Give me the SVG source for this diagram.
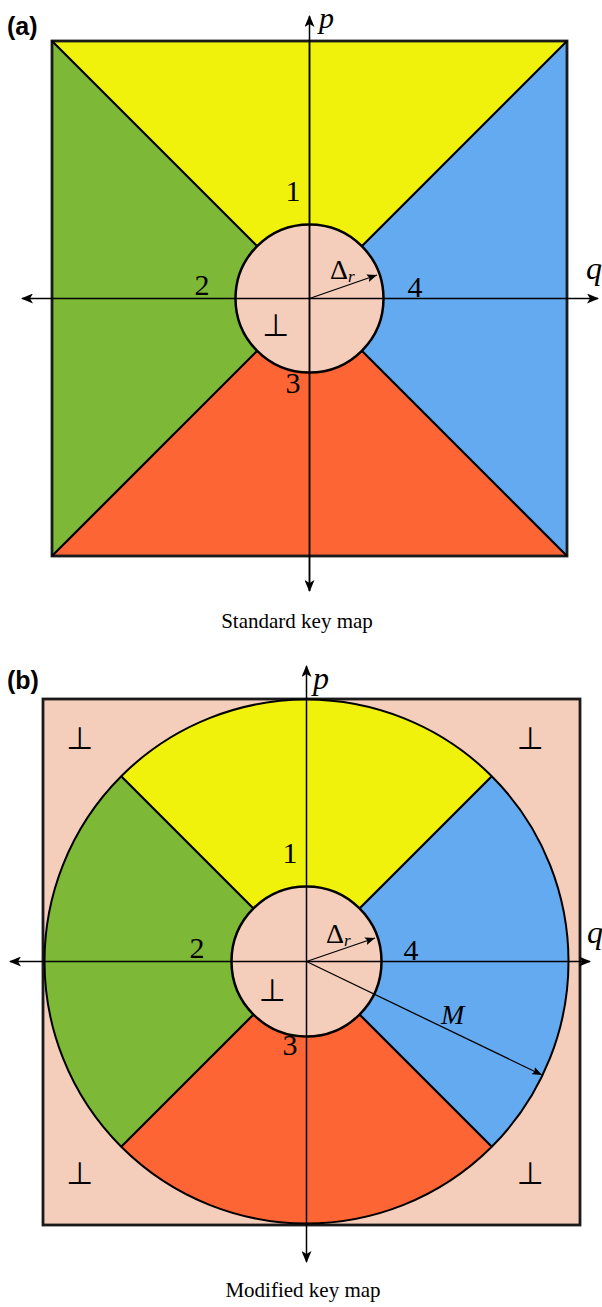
<svg xmlns="http://www.w3.org/2000/svg" width="602" height="1307" viewBox="0 0 602 1307">
<style>
.lbl{font-family:"Liberation Sans",Arial,sans-serif;font-weight:bold;font-size:25px;fill:#000}
.num{font-family:"Liberation Serif","Times New Roman",serif;font-size:30px;fill:#000;text-anchor:middle}
.it{font-family:"Liberation Serif","Times New Roman",serif;font-style:italic;fill:#000}
.cap{font-family:"Liberation Serif","Times New Roman",serif;font-size:21px;fill:#000;text-anchor:middle}
.perp{font-family:"DejaVu Sans",sans-serif;font-size:31px;fill:#000;text-anchor:middle}
.axis{stroke:#000;stroke-width:1.5;fill:none}
.thin{stroke:#000;stroke-width:1.3;fill:none}
.edge{stroke:#000;stroke-width:2.2;fill:none}
.frame{stroke:#1a1a1a;stroke-width:2.8}
.y{fill:#F0F20C}.g{fill:#7DB836}.b{fill:#63AAF0}.r{fill:#FE6535}.pk{fill:#F5CDBB}
</style>
<defs>
<marker id="ah" viewBox="0 0 12 10" refX="11" refY="5" markerWidth="12" markerHeight="10" markerUnits="userSpaceOnUse" orient="auto">
<path d="M0,0 L12,5 L0,10 L3,5 Z" fill="#000"/>
</marker>
<marker id="ahs" viewBox="0 0 10 8" refX="10" refY="4" markerWidth="10" markerHeight="8" markerUnits="userSpaceOnUse" orient="auto">
<path d="M0,0 L10,4 L0,8 L2,4 Z" fill="#000"/>
</marker>
</defs>

<!-- Panel (a) -->
<g id="panel-a">
<text class="lbl" x="7" y="35">(a)</text>
<g id="a-region-1"><polygon class="y" points="52,41 567,41 309.5,298.5"/></g>
<g id="a-region-2"><polygon class="g" points="52,41 52,556 309.5,298.5"/></g>
<g id="a-region-3"><polygon class="r" points="52,556 567,556 309.5,298.5"/></g>
<g id="a-region-4"><polygon class="b" points="567,41 567,556 309.5,298.5"/></g>
<rect x="52" y="41" width="515" height="515" fill="none" class="frame"/>
<g id="a-dividers">
<line class="edge" x1="52" y1="41" x2="257.2" y2="246.2"/>
<line class="edge" x1="567" y1="41" x2="361.8" y2="246.2"/>
<line class="edge" x1="52" y1="556" x2="257.2" y2="350.8"/>
<line class="edge" x1="567" y1="556" x2="361.8" y2="350.8"/>
</g>
<g id="a-center"><circle class="pk" cx="309.5" cy="298.5" r="74" stroke="#000" stroke-width="2.5"/></g>
<g id="a-axes">
<line class="axis" x1="309.5" y1="591" x2="309.5" y2="16" marker-end="url(#ah)"/>
<line class="axis" x1="309.5" y1="41" x2="309.5" y2="591" marker-end="url(#ah)"/>
<line class="axis" x1="309.5" y1="298.5" x2="598" y2="298.5" marker-end="url(#ah)"/>
<line class="axis" x1="309.5" y1="298.5" x2="22" y2="298.5" marker-end="url(#ah)"/>
<line class="thin" x1="309.5" y1="298.5" x2="377" y2="275" marker-end="url(#ahs)"/>
</g>
<text class="it" x="319" y="28" font-size="30">p</text>
<text class="it" x="586" y="279" font-size="32">q</text>
<text class="num" x="293" y="201">1</text>
<text class="num" x="202" y="295">2</text>
<text class="num" x="293" y="393">3</text>
<text class="num" x="415" y="297">4</text>
<text x="330" y="279" font-family="Liberation Serif,serif" font-size="28">Δ<tspan font-style="italic" font-size="17" dy="3">r</tspan></text>
<text class="perp" x="275.5" y="336">⊥</text>
<text class="cap" x="297" y="628">Standard key map</text>
</g>

<!-- Panel (b) -->
<g id="panel-b">
<text class="lbl" x="7" y="689">(b)</text>
<rect id="b-frame" x="43" y="699" width="537" height="526" class="pk frame"/>
<g id="b-region-1"><path class="y" d="M306.5,961.5 L491.8,776.2 A262,262 0 0 0 121.2,776.2 Z"/></g>
<g id="b-region-2"><path class="g" d="M306.5,961.5 L121.2,776.2 A262,262 0 0 0 121.2,1146.8 Z"/></g>
<g id="b-region-3"><path class="r" d="M306.5,961.5 L121.2,1146.8 A262,262 0 0 0 491.8,1146.8 Z"/></g>
<g id="b-region-4"><path class="b" d="M306.5,961.5 L491.8,1146.8 A262,262 0 0 0 491.8,776.2 Z"/></g>
<circle cx="306.5" cy="961.5" r="262" fill="none" stroke="#000" stroke-width="2"/>
<g id="b-dividers">
<line class="edge" x1="121.2" y1="776.2" x2="253.5" y2="908.5"/>
<line class="edge" x1="491.8" y1="776.2" x2="359.5" y2="908.5"/>
<line class="edge" x1="121.2" y1="1146.8" x2="253.5" y2="1014.5"/>
<line class="edge" x1="491.8" y1="1146.8" x2="359.5" y2="1014.5"/>
</g>
<g id="b-center"><circle class="pk" cx="306.5" cy="961.5" r="75" stroke="#000" stroke-width="2.5"/></g>
<g id="b-axes">
<line class="axis" x1="306.5" y1="961.5" x2="306.5" y2="666" marker-end="url(#ah)"/>
<line class="axis" x1="306.5" y1="961.5" x2="306.5" y2="1262" marker-end="url(#ah)"/>
<line class="axis" x1="306.5" y1="961.5" x2="590" y2="961.5" marker-end="url(#ah)"/>
<line class="axis" x1="306.5" y1="961.5" x2="10" y2="961.5" marker-end="url(#ah)"/>
<line class="thin" x1="306.5" y1="961.5" x2="375" y2="938" marker-end="url(#ahs)"/>
<line class="thin" x1="306.5" y1="961.5" x2="542" y2="1075" marker-end="url(#ahs)"/>
</g>
<text class="it" x="313" y="689" font-size="32">p</text>
<text class="it" x="587" y="943" font-size="32">q</text>
<text class="num" x="290" y="863">1</text>
<text class="num" x="197" y="958">2</text>
<text class="num" x="290" y="1055">3</text>
<text class="num" x="411" y="960">4</text>
<text x="326" y="943" font-family="Liberation Serif,serif" font-size="28">Δ<tspan font-style="italic" font-size="17" dy="3">r</tspan></text>
<text class="it" x="441" y="1024" font-size="28">M</text>
<text class="perp" x="272" y="1001">⊥</text>
<text class="perp" x="79.5" y="749">⊥</text>
<text class="perp" x="530" y="749">⊥</text>
<text class="perp" x="79.5" y="1184">⊥</text>
<text class="perp" x="530" y="1184">⊥</text>
<text class="cap" x="303" y="1297">Modified key map</text>
</g>
</svg>
